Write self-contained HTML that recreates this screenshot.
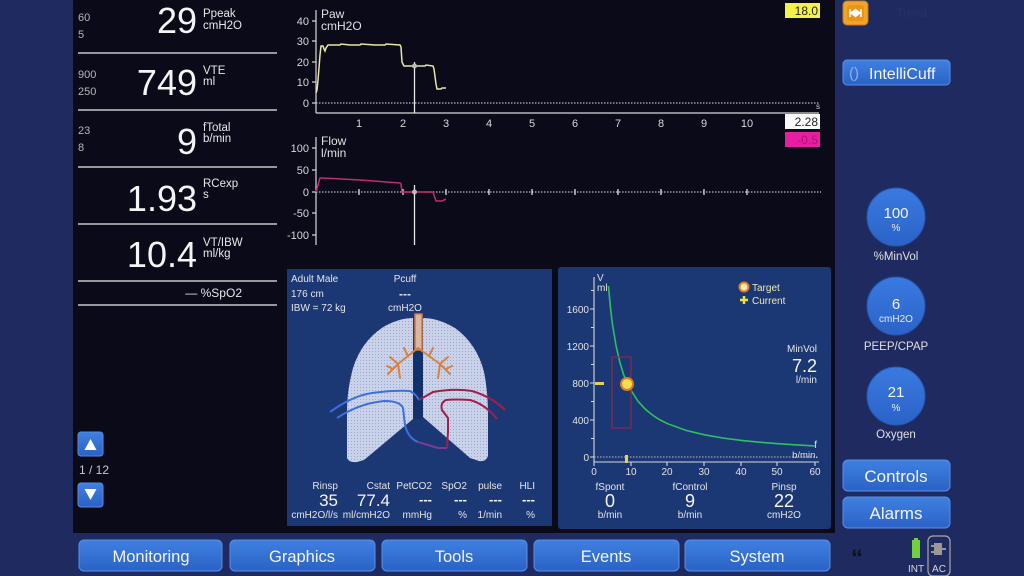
<!DOCTYPE html>
<html><head><meta charset="utf-8"><style>
html,body{margin:0;padding:0;background:#1f2b60;}
svg{display:block;font-family:"Liberation Sans",sans-serif;}
</style></head><body>
<svg width="1024" height="576" viewBox="0 0 1024 576" xmlns="http://www.w3.org/2000/svg">
<defs>
<linearGradient id="btn" x1="0" y1="0" x2="0" y2="1"><stop offset="0" stop-color="#3f80e0"/><stop offset="1" stop-color="#2a62c6"/></linearGradient>
<linearGradient id="circ" x1="0" y1="0" x2="0" y2="1"><stop offset="0" stop-color="#3a7ae0"/><stop offset="1" stop-color="#2b63c8"/></linearGradient>
<pattern id="dots" width="3" height="3" patternUnits="userSpaceOnUse"><rect width="3" height="3" fill="#cad2ea"/><rect width="1" height="1" fill="#9ca8cc"/></pattern>
</defs>
<rect width="1024" height="576" fill="#1f2b60"/>
<rect x="73" y="0" width="762" height="533" fill="#0a0a19"/>

<!-- LEFT NUMERIC PANEL -->
<g stroke="#c8c8c8" stroke-width="1.5">
<line x1="78" y1="53" x2="277" y2="53"/>
<line x1="78" y1="110" x2="277" y2="110"/>
<line x1="78" y1="167" x2="277" y2="167"/>
<line x1="78" y1="224" x2="277" y2="224"/>
<line x1="78" y1="281" x2="277" y2="281"/>
<line x1="78" y1="305" x2="277" y2="305"/>
</g>
<g fill="#b8b8b8" font-size="11">
<text x="78" y="21">60</text><text x="78" y="38">5</text>
<text x="78" y="78">900</text><text x="78" y="95">250</text>
<text x="78" y="134">23</text><text x="78" y="151">8</text>
</g>
<g fill="#f4f4f4" font-size="36" text-anchor="end">
<text x="197" y="33">29</text>
<text x="197" y="95">749</text>
<text x="197" y="154">9</text>
<text x="197" y="211">1.93</text>
<text x="197" y="267">10.4</text>
</g>
<g fill="#e8e8e8" font-size="11.5">
<text x="203" y="17">Ppeak</text><text x="203" y="29">cmH2O</text>
<text x="203" y="74">VTE</text><text x="203" y="85">ml</text>
<text x="203" y="131">fTotal</text><text x="203" y="142">b/min</text>
<text x="203" y="187">RCexp</text><text x="203" y="198">s</text>
<text x="203" y="246">VT/IBW</text><text x="203" y="257">ml/kg</text>
<text x="242" y="297" text-anchor="end" font-size="12">— %SpO2</text>
</g>

<!-- scroll buttons -->
<rect x="78" y="432" width="25" height="24" rx="3" fill="url(#btn)" stroke="#5a8ae0"/>
<polygon points="84.5,450 96.5,450 90.5,439" fill="#fff"/>
<text x="79" y="474" fill="#c8c8c8" font-size="12">1 / 12</text>
<rect x="78" y="483" width="25" height="24" rx="3" fill="url(#btn)" stroke="#5a8ae0"/>
<polygon points="84.5,489 96.5,489 90.5,500" fill="#fff"/>

<!-- PAW CHART -->
<g stroke="#d8d8d8" stroke-width="1.2" fill="none">
<line x1="316" y1="10" x2="316" y2="113"/>
<line x1="316" y1="113" x2="819" y2="113"/>
<line x1="312" y1="21" x2="316" y2="21"/>
<line x1="312" y1="41" x2="316" y2="41"/>
<line x1="312" y1="62" x2="316" y2="62"/>
<line x1="312" y1="82" x2="316" y2="82"/>
<line x1="312" y1="103" x2="316" y2="103"/>
<line x1="316" y1="103" x2="819" y2="103" stroke-dasharray="1.5,1.5" stroke="#bbb"/>
</g>
<g fill="#d8d8d8" font-size="11" text-anchor="end">
<text x="309" y="25">40</text><text x="309" y="45">30</text><text x="309" y="66">20</text><text x="309" y="86">10</text><text x="309" y="107">0</text>
</g>
<g fill="#d8d8d8" font-size="11" text-anchor="middle">
<text x="359" y="127">1</text><text x="403" y="127">2</text><text x="446" y="127">3</text><text x="489" y="127">4</text><text x="532" y="127">5</text><text x="575" y="127">6</text><text x="618" y="127">7</text><text x="661" y="127">8</text><text x="704" y="127">9</text><text x="747" y="127">10</text>
</g>
<text x="816" y="109" fill="#ccc" font-size="8">s</text>
<text x="321" y="18" fill="#e0e0e0" font-size="12">Paw</text>
<text x="321" y="30" fill="#e0e0e0" font-size="12">cmH2O</text>
<polyline fill="none" stroke="#e6e6a8" stroke-width="1.5" points="316,93 317,90 318,80 319,68 320,55 321,46 323,46 324,49 325,51 326,48 328,45 340,45 341,44 350,45 360,45 361,44 375,45 385,45 386,44 400,45 401,47 402,62 404,66 414,66 425,66 426,65 433,66 434,69 436,84 437,89 441,89 442,88 446,88"/>
<line x1="414.5" y1="62" x2="414.5" y2="113" stroke="#e8e8e8" stroke-width="1.3"/>
<circle cx="414.5" cy="66" r="2.5" fill="#bbb"/>
<rect x="785" y="3" width="35" height="15" fill="#f2f24a"/>
<text x="818" y="15" fill="#222" font-size="12" text-anchor="end">18.0</text>
<rect x="785" y="114" width="35" height="15" fill="#fafafa"/>
<text x="818" y="126" fill="#222" font-size="12" text-anchor="end">2.28</text>
<rect x="785" y="132" width="35" height="15" fill="#e81ea0"/>
<text x="818" y="144" fill="#b0107a" font-size="12" text-anchor="end">-0.5</text>

<!-- FLOW CHART -->
<g stroke="#d8d8d8" stroke-width="1.2" fill="none">
<line x1="316" y1="137" x2="316" y2="245"/>
<line x1="312" y1="148" x2="316" y2="148"/>
<line x1="312" y1="170" x2="316" y2="170"/>
<line x1="312" y1="192" x2="316" y2="192"/>
<line x1="312" y1="213" x2="316" y2="213"/>
<line x1="312" y1="235" x2="316" y2="235"/>
<line x1="316" y1="192" x2="821" y2="192" stroke-dasharray="1.5,1.5" stroke="#bbb"/>
<path d="M359,189v6M403,189v6M446,189v6M489,189v6M532,189v6M575,189v6M618,189v6M661,189v6M704,189v6M747,189v6" stroke="#eee"/>
</g>
<g fill="#d8d8d8" font-size="11" text-anchor="end">
<text x="309" y="152">100</text><text x="309" y="174">50</text><text x="309" y="196">0</text><text x="309" y="217">-50</text><text x="309" y="239">-100</text>
</g>
<text x="321" y="145" fill="#e0e0e0" font-size="12">Flow</text>
<text x="321" y="157" fill="#e0e0e0" font-size="12">l/min</text>
<polyline fill="none" stroke="#c02c72" stroke-width="1.5" points="316,192 318,185 320,178 323,178 360,180 400,183 401,184 402,192 433,192 434,195 436,201 442,201 446,199"/>
<line x1="414.5" y1="185" x2="414.5" y2="245" stroke="#e8e8e8" stroke-width="1.3"/>
<circle cx="414.5" cy="192" r="2.5" fill="#bbb"/>

<!-- LUNG PANEL -->
<rect x="287" y="269" width="265" height="257" fill="#1c3874"/>
<g fill="#e4e4e4" font-size="10">
<text x="291" y="282">Adult Male</text>
<text x="291" y="297">176 cm</text>
<text x="291" y="311">IBW = 72 kg</text>
<text x="405" y="282" text-anchor="middle">Pcuff</text>
<text x="405" y="298" text-anchor="middle" font-weight="bold" font-size="12">---</text>
<text x="405" y="311" text-anchor="middle">cmH2O</text>
</g>
<path d="M413,318 Q400,318 385,326 Q362,340 353,368 Q347,390 347,412 L347,458 Q349,463 357,462 L364,460 L413,419 Z" fill="url(#dots)"/>
<path d="M423,318 Q438,318 455,328 Q477,344 484,372 Q488,392 488,415 L488,456 Q486,462 479,461 L470,458 L423,417 Z" fill="url(#dots)"/>
<rect x="413" y="347" width="10" height="72" fill="#12306a"/>
<rect x="415" y="314" width="7" height="36" fill="#d8b8a0" stroke="#d07840" stroke-width="1.5"/>
<g stroke="#d88040" stroke-width="2" fill="none" stroke-linecap="round">
<path d="M418,348 L408,356 L398,364 L390,357 M398,364 L388,374 M398,364 L400,378 M408,356 L404,348 M393,369 L387,366"/>
<path d="M418,348 L429,356 L440,364 L448,357 M440,364 L450,374 M440,364 L438,378 M429,356 L433,348 M446,369 L452,366"/>
</g>
<g fill="none" stroke-width="2">
<path d="M330,412 Q352,396 372,393 Q395,390 410,391 Q416,394 419,400" stroke="#3a70e0"/>
<path d="M337,418 Q360,403 385,401 Q400,401 403,408 L405,425 Q408,438 418,442" stroke="#3a70e0"/>
<path d="M418,442 L438,448 L447,448" stroke="#7a3a9a"/>
<path d="M419,400 Q426,396 433,392 Q455,388 472,391 Q492,397 505,410" stroke="#a01e4c"/>
<path d="M497,419 Q485,404 470,400 Q455,399 446,400 Q440,403 442,410 L448,418 L448,432 L447,448" stroke="#a01e4c"/>
</g>
<g fill="#e4e4e4" font-size="10" text-anchor="end">
<text x="338" y="489">Rinsp</text><text x="390" y="489">Cstat</text><text x="432" y="489">PetCO2</text><text x="467" y="489">SpO2</text><text x="502" y="489">pulse</text><text x="535" y="489">HLI</text>
<text x="338" y="518">cmH2O/l/s</text><text x="390" y="518">ml/cmH2O</text><text x="432" y="518">mmHg</text><text x="467" y="518">%</text><text x="502" y="518">1/min</text><text x="535" y="518">%</text>
</g>
<g fill="#f4f4f4" font-size="17" text-anchor="end">
<text x="338" y="506">35</text><text x="390" y="506">77.4</text>
</g>
<g fill="#f4f4f4" font-size="13" font-weight="bold" text-anchor="end">
<text x="432" y="504">---</text><text x="467" y="504">---</text><text x="502" y="504">---</text><text x="535" y="504">---</text>
</g>

<!-- RIGHT GRAPH PANEL -->
<rect x="558" y="267" width="273" height="262" rx="3" fill="#1c3874"/>
<g stroke="#d8d8d8" stroke-width="1.1" fill="none">
<line x1="594" y1="277" x2="594" y2="462"/>
<line x1="594" y1="462" x2="819" y2="462"/>
<line x1="594" y1="457" x2="819" y2="457" stroke-dasharray="1.5,1.5" stroke="#bbb"/>
<path d="M590,309h4M590,346h4M590,383h4M590,420h4M590,457h4M591,327.5h3M591,364.5h3M591,401.5h3M591,438.5h3M591,290.5h3"/>
<path d="M594,462v4M631,462v4M667,462v4M704,462v4M741,462v4M777,462v4M815,462v4"/>
</g>
<text x="597" y="281" fill="#e0e0e0" font-size="10">V</text>
<text x="597" y="291" fill="#e0e0e0" font-size="10">ml</text>
<g fill="#e0e0e0" font-size="10" text-anchor="end">
<text x="589" y="313">1600</text><text x="589" y="350">1200</text><text x="589" y="387">800</text><text x="589" y="424">400</text><text x="589" y="461">0</text>
</g>
<g fill="#e0e0e0" font-size="10" text-anchor="middle">
<text x="594" y="475">0</text><text x="631" y="475">10</text><text x="667" y="475">20</text><text x="704" y="475">30</text><text x="741" y="475">40</text><text x="777" y="475">50</text><text x="815" y="475">60</text>
</g>
<text x="817" y="448" fill="#e0e0e0" font-size="10" text-anchor="end">f</text>
<text x="818" y="458" fill="#e0e0e0" font-size="9.5" text-anchor="end">b/min.</text>
<polyline fill="none" stroke="#2ec060" stroke-width="1.6" points="608.4,286 610.6,309 612.4,324 616.1,346 619.8,362 623.4,374 627.1,383 630.8,390 638.2,401.5 645.5,409.4 652.9,415.4 660.2,420 667.6,423.7 686,430.4 704.4,434.8 722.8,438 741.2,440.4 759.6,442.2 778,443.7 796.4,444.9 814.8,445.9"/>
<rect x="612" y="357" width="19" height="71" fill="none" stroke="#8a2a4a" stroke-width="1.2"/>
<circle cx="627" cy="384" r="6" fill="#f4dc50" stroke="#e07a20" stroke-width="2"/>
<rect x="595" y="382" width="9" height="3" fill="#e8d050"/>
<rect x="625" y="455" width="3" height="8" fill="#e8d050"/>
<circle cx="744" cy="287" r="4.5" fill="#f8e8a0" stroke="#e08030" stroke-width="2"/>
<path d="M740,300h8M744,296v8" stroke="#f0e040" stroke-width="2.5"/>
<text x="752" y="291" fill="#f0e8b0" font-size="10">Target</text>
<text x="752" y="304" fill="#f0e8b0" font-size="10">Current</text>
<text x="817" y="352" fill="#e4e4e4" font-size="10" text-anchor="end">MinVol</text>
<text x="817" y="372" fill="#f4f4f4" font-size="18" text-anchor="end">7.2</text>
<text x="817" y="383" fill="#e4e4e4" font-size="10" text-anchor="end">l/min</text>
<g fill="#e4e4e4" font-size="10" text-anchor="middle">
<text x="610" y="490">fSpont</text><text x="690" y="490">fControl</text><text x="784" y="490">Pinsp</text>
<text x="610" y="518">b/min</text><text x="690" y="518">b/min</text><text x="784" y="518">cmH2O</text>
</g>
<g fill="#f4f4f4" font-size="18" text-anchor="middle">
<text x="610" y="507">0</text><text x="690" y="507">9</text><text x="784" y="507">22</text>
</g>

<!-- BOTTOM BUTTONS -->
<g stroke="#5b8fe4" stroke-width="1">
<rect x="79" y="540" width="143" height="31" rx="5" fill="url(#btn)"/>
<rect x="230" y="540" width="145" height="31" rx="5" fill="url(#btn)"/>
<rect x="382" y="540" width="145" height="31" rx="5" fill="url(#btn)"/>
<rect x="534" y="540" width="145" height="31" rx="5" fill="url(#btn)"/>
<rect x="685" y="540" width="145" height="31" rx="5" fill="url(#btn)"/>
</g>
<g fill="#f4f4f4" font-size="16.5" text-anchor="middle">
<text x="151" y="562">Monitoring</text>
<text x="302" y="562">Graphics</text>
<text x="454" y="562">Tools</text>
<text x="606" y="562">Events</text>
<text x="757" y="562">System</text>
</g>

<!-- SIDEBAR -->
<rect x="843" y="1" width="25" height="24" rx="4" fill="#f0a428" stroke="#c87a10"/>
<rect x="847" y="5" width="17" height="16" rx="3" fill="#e89418"/>
<path d="M850,9v8M861,9v8M851,13l4,-3v6zM860,13l-4,-3v6z" stroke="#fff" stroke-width="1.5" fill="#fff"/>
<text x="896" y="17" fill="#26316a" font-size="12">Trend</text>
<rect x="843" y="60" width="107" height="25" rx="4" fill="url(#btn)" stroke="#5b8fe4"/>
<text x="849" y="78" fill="#8fb0e8" font-size="15">()</text>
<text x="869" y="79" fill="#f4f4f4" font-size="16">IntelliCuff</text>
<circle cx="896" cy="217" r="29" fill="url(#circ)" stroke="#2458b0"/>
<text x="896" y="218" fill="#f4f4f4" font-size="15" text-anchor="middle">100</text>
<text x="896" y="231" fill="#e8e8e8" font-size="10" text-anchor="middle">%</text>
<text x="896" y="260" fill="#e0e0e0" font-size="11.5" text-anchor="middle">%MinVol</text>
<circle cx="896" cy="306" r="29" fill="url(#circ)" stroke="#2458b0"/>
<text x="896" y="309" fill="#f4f4f4" font-size="15" text-anchor="middle">6</text>
<text x="896" y="322" fill="#e8e8e8" font-size="10" text-anchor="middle">cmH2O</text>
<text x="896" y="350" fill="#e0e0e0" font-size="11.5" text-anchor="middle">PEEP/CPAP</text>
<circle cx="896" cy="396" r="29" fill="url(#circ)" stroke="#2458b0"/>
<text x="896" y="397" fill="#f4f4f4" font-size="15" text-anchor="middle">21</text>
<text x="896" y="411" fill="#e8e8e8" font-size="10" text-anchor="middle">%</text>
<text x="896" y="438" fill="#e0e0e0" font-size="11.5" text-anchor="middle">Oxygen</text>
<rect x="843" y="460" width="107" height="31" rx="5" fill="url(#btn)" stroke="#5b8fe4"/>
<text x="896" y="482" fill="#f4f4f4" font-size="17" text-anchor="middle">Controls</text>
<rect x="843" y="497" width="107" height="31" rx="5" fill="url(#btn)" stroke="#5b8fe4"/>
<text x="896" y="519" fill="#f4f4f4" font-size="17" text-anchor="middle">Alarms</text>
<text x="851" y="566" fill="#111" font-size="24" font-weight="bold">“</text>
<rect x="914" y="538" width="4" height="3" fill="#70d040"/>
<rect x="912" y="540" width="8" height="18" fill="#70d040"/>
<text x="916" y="572" fill="#d8d8d8" font-size="10" text-anchor="middle">INT</text>
<rect x="928" y="536" width="22" height="40" rx="5" fill="none" stroke="#a8a8a8" stroke-width="1.2"/>
<rect x="934" y="543" width="8" height="12" fill="#999"/>
<path d="M931,546h3M931,552h3M942,549h4" stroke="#999" stroke-width="2"/>
<text x="939" y="572" fill="#d8d8d8" font-size="10" text-anchor="middle">AC</text>
</svg>
</body></html>
